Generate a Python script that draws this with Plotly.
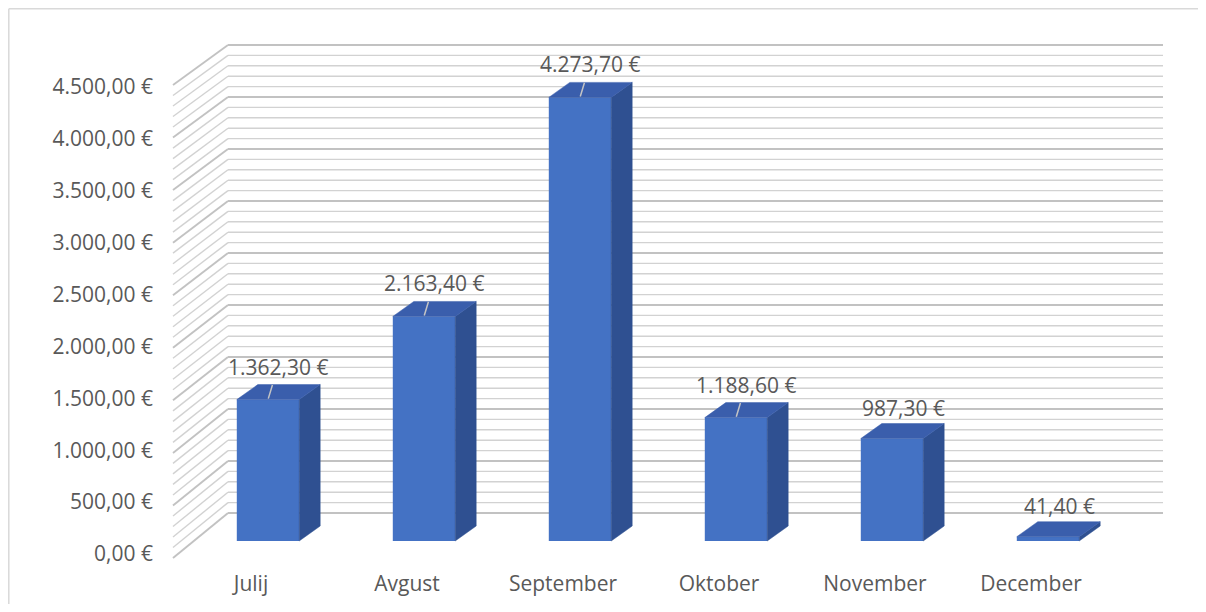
import plotly.graph_objects as go

# ---------------- data ----------------
months = ["Julij", "Avgust", "September", "Oktober", "November", "December"]
values = [1362.30, 2163.40, 4273.70, 1188.60, 987.30, 41.40]
tick_values = [0, 500, 1000, 1500, 2000, 2500, 3000, 3500, 4000, 4500]
minor_step = 100

# ---------------- layout geometry (screen pixels) ----------------
PAGE_OFF = 8                                 # page body margin
W, H = 1206 - 2 * PAGE_OFF, 612 - 2 * PAGE_OFF
PL, PR, PT, PB = 170, 1170, 30, 560          # plot area (screen px)
CAT0_PX, CAT_STEP = 268, 156                 # bar centre of first category, spacing
BAR_ZERO_PX, K_BAR = 541, 0.1038             # bar front plane: 0 position, px per unit
LAB_ZERO_PX, K_LAB = 554, 467 / 4500         # tick-label plane
FRONT_ZERO_PX, K_FRONT = 558, 473 / 4500     # front edge of the side wall
BACK_ZERO_PX, K_BACK = 513, 468 / 4500       # back wall
BACK_LEFT_PX, BACK_RIGHT_PX, FRONT_LEFT_PX = 228, 1163, 173
LABEL_SHIFT_PX = -17                         # category labels vs bar centres
DEPTH_DX_PX, DEPTH_DY_PX = 21, 15            # bar depth projection
BAR_W = 0.4

def px_to_x(px):
    return (px - CAT0_PX) / CAT_STEP

def px_to_y(py):
    return (BAR_ZERO_PX - py) / K_BAR

def paper_x(px):
    return (px - PL) / (PR - PL)

def paper_y(py):
    return (PB - py) / (PB - PT)

x_range = [px_to_x(PL), px_to_x(PR)]
y_range = [px_to_y(PB), px_to_y(PT)]
x2_range = [(PL - CAT0_PX - LABEL_SHIFT_PX) / CAT_STEP, (PR - CAT0_PX - LABEL_SHIFT_PX) / CAT_STEP]
y2_range = [-(PB - LAB_ZERO_PX) / K_LAB, (LAB_ZERO_PX - PT) / K_LAB]

ddx = DEPTH_DX_PX / CAT_STEP
ddy = DEPTH_DY_PX / K_BAR

FRONT = "#4472C4"
TOP = "#3A5EAC"
SIDE = "#2F5091"
TXT = "#595959"
FONT = "Open Sans"
FS = 21

fig = go.Figure()

# ---- gridlines on back wall + left wall (as shapes, below traces) ----
shapes = []
grid_vals = list(range(0, int(tick_values[-1]) + 1, minor_step))
for gv in grid_vals:
    major = (gv % 500 == 0)
    col = "#c2c2c2" if major else "#d2d2d2"
    wid = 1.9 if major else 1.4
    yb = px_to_y(BACK_ZERO_PX - K_BACK * gv)
    yf = px_to_y(FRONT_ZERO_PX - K_FRONT * gv)
    shapes.append(dict(type="line", xref="x", yref="y", layer="below",
                       x0=px_to_x(BACK_LEFT_PX), x1=px_to_x(BACK_RIGHT_PX), y0=yb, y1=yb,
                       line=dict(color=col, width=wid)))
    shapes.append(dict(type="line", xref="x", yref="y", layer="below",
                       x0=px_to_x(FRONT_LEFT_PX), x1=px_to_x(BACK_LEFT_PX), y0=yf, y1=yb,
                       line=dict(color=col, width=wid)))

# chart border (only top / left edges fall inside the picture)
bx, by = PAGE_OFF + 0.8, PAGE_OFF + 0.8
shapes.append(dict(type="line", xref="paper", yref="paper", layer="below",
                   x0=paper_x(bx), x1=paper_x(PAGE_OFF + W + 5), y0=paper_y(by), y1=paper_y(by),
                   line=dict(color="#d9d9d9", width=1.5)))
shapes.append(dict(type="line", xref="paper", yref="paper", layer="below",
                   x0=paper_x(bx), x1=paper_x(bx), y0=paper_y(by), y1=paper_y(PAGE_OFF + H + 5),
                   line=dict(color="#d9d9d9", width=1.5)))

# ---- bar side and top faces ----
side_x, side_y, top_x, top_y = [], [], [], []
for i, v in enumerate(values):
    xl, xr = i - BAR_W / 2, i + BAR_W / 2
    side_x += [xr, xr, xr + ddx, xr + ddx, xr, None]
    side_y += [0, v, v + ddy, ddy, 0, None]
    top_x += [xl, xr, xr + ddx, xl + ddx, xl, None]
    top_y += [v, v, v + ddy, v + ddy, v, None]

fig.add_trace(go.Scatter(x=side_x, y=side_y, mode="lines", fill="toself",
                         fillcolor=SIDE, line=dict(color=SIDE, width=0.5),
                         hoverinfo="skip", showlegend=False))
fig.add_trace(go.Scatter(x=top_x, y=top_y, mode="lines", fill="toself",
                         fillcolor=TOP, line=dict(color=TOP, width=0.5),
                         hoverinfo="skip", showlegend=False))

# ---- bar front faces ----
fig.add_trace(go.Bar(x=list(range(len(months))), y=values, width=BAR_W,
                     marker=dict(color=FRONT, line=dict(width=0)),
                     hovertext=months, showlegend=False))

# dummy trace to carry the label axes
fig.add_trace(go.Scatter(x=months, y=[0] * len(months), xaxis="x2", yaxis="y2",
                         mode="markers", marker=dict(opacity=0),
                         hoverinfo="skip", showlegend=False))

# ---- data labels ----
def euro(v):
    s = f"{v:,.2f}"
    s = s.replace(",", "X").replace(".", ",").replace("X", ".")
    return s + " €"

annotations = []
for i, v in enumerate(values):
    leader = v >= 1000
    annotations.append(dict(x=i, y=v, xref="x", yref="y", text=euro(v),
                            showarrow=leader, arrowhead=0, arrowwidth=1.5,
                            arrowcolor="#c4c4c4", ax=10, ay=-33,
                            startstandoff=3, standoff=1,
                            xshift=0 if leader else 11, yshift=0 if leader else 31,
                            font=dict(family=FONT, size=FS, color=TXT)))

fig.update_layout(
    width=W, height=H, autosize=False,
    margin=dict(l=PL - PAGE_OFF, r=(PAGE_OFF + W) - PR, t=PT - PAGE_OFF,
                b=(PAGE_OFF + H) - PB, autoexpand=False),
    paper_bgcolor="white", plot_bgcolor="rgba(0,0,0,0)",
    shapes=shapes, annotations=annotations,
    font=dict(family=FONT, size=FS, color=TXT),
    xaxis=dict(range=x_range, visible=False, fixedrange=True, automargin=False),
    yaxis=dict(range=y_range, visible=False, fixedrange=True, automargin=False),
    xaxis2=dict(overlaying="x", side="bottom", type="category", range=x2_range,
                showgrid=False, zeroline=False, showline=False, ticks="", automargin=False,
                ticklabelstandoff=9, tickfont=dict(family=FONT, size=FS, color=TXT)),
    yaxis2=dict(overlaying="y", side="left", range=y2_range, tickvals=tick_values,
                ticktext=[euro(t) for t in tick_values], showgrid=False, zeroline=False,
                showline=False, ticks="", ticklabelstandoff=16, automargin=False,
                tickfont=dict(family=FONT, size=FS, color=TXT)),
    showlegend=False,
)

fig.write_html("out.html")
